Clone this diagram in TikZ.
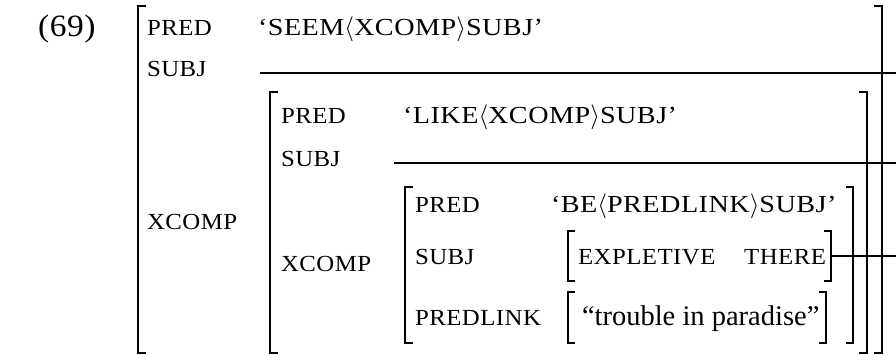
\documentclass[tikz,border=0pt]{standalone}
\usepackage{fontspec}
\setmainfont{Liberation Serif}
\newfontfamily\scf[FakeStretch=1.08,LetterSpace=2]{Liberation Serif}
\newfontfamily\vlf[FakeStretch=1.15,LetterSpace=2]{Liberation Serif}
\newcommand{\SCfont}{\scf\fontsize{23}{27}\selectfont}
\newcommand{\VLfont}{\vlf\fontsize{24.5}{29}\selectfont}
\newcommand{\RMfont}{\rmfamily\fontsize{28.5}{33}\selectfont}
\newcommand{\NUMfont}{\scf\fontsize{31}{36}\selectfont}
\newcommand{\lang}{\ensuremath{\langle}}
\newcommand{\rang}{\ensuremath{\rangle}}
\begin{document}
\begin{tikzpicture}[x=1pt,y=-1pt,
  lab/.style={anchor=base west,inner sep=0pt,outer sep=0pt,font=\SCfont},
  val/.style={anchor=base west,inner sep=0pt,outer sep=0pt,font=\VLfont},
  txt/.style={anchor=base west,inner sep=0pt,outer sep=0pt,font=\RMfont},
  num/.style={anchor=base west,inner sep=0pt,outer sep=0pt,font=\NUMfont},
  brk/.style={line width=1.8pt,line cap=butt,line join=miter},
  sbrk/.style={line width=1.1pt,line cap=butt,line join=miter},
  share/.style={line width=1.2pt}]
\useasboundingbox (0,0) rectangle (896,355);
% example number
\node[num] (ex) at (38,37) {(69)};
% outer f-structure
\node[lab] (p1) at (147,36) {PRED};
\node[val] (v1) at (258,36) {‘SEEM\lang XCOMP\rang SUBJ’};
\node[lab] (s1) at (147,77) {SUBJ};
\node[lab] (x1) at (147,230) {XCOMP};
% level 2
\node[lab] (p2) at (281,124) {PRED};
\node[val] (v2) at (403,124) {‘LIKE\lang XCOMP\rang SUBJ’};
\node[lab] (s2) at (281,167) {SUBJ};
\node[lab] (x2) at (281,272) {XCOMP};
% level 3
\node[lab] (p3) at (415,213) {PRED};
\node[val] (v3) at (551,213) {‘BE\lang PREDLINK\rang SUBJ’};
\node[lab] (s3) at (415,264) {SUBJ};
\node[lab] (e3) at (578,264) {EXPLETIVE};
\node[lab,anchor=base east] (t3) at (826,264) {THERE};
\node[lab] (l3) at (415,325) {PREDLINK};
\node[txt] (tr) at (582,325) {“trouble in paradise”};
% structure-sharing lines
\coordinate (e1) at (896,73);
\coordinate (e2) at (896,163);
\coordinate (e3r) at (896,256);
\coordinate (a1) at (260,73);
\coordinate (a2) at (394,163);
\coordinate (a3) at (831,256);
\draw[share] (a1) -- (e1);
\draw[share] (a2) -- (e2);
\draw[share] (a3) -- (e3r);
% outer brackets
\draw[brk] (146,6) -- (138,6) -- (138,353) -- (146,353);
\draw[brk] (874,6) -- (882,6) -- (882,353) -- (874,353);
% level 2 brackets
\draw[brk] (278,92) -- (270,92) -- (270,353) -- (278,353);
\draw[brk] (859,92) -- (867,92) -- (867,353) -- (859,353);
% level 3 brackets
\draw[brk] (413,187) -- (405,187) -- (405,343) -- (413,343);
\draw[brk] (846,187) -- (853,187) -- (853,343) -- (846,343);
% value brackets
\draw[sbrk] (575,231) -- (568,231) -- (568,281) -- (575,281);
\draw[sbrk] (824,231) -- (831,231) -- (831,281) -- (824,281);
\draw[sbrk] (575,292) -- (568,292) -- (568,343) -- (575,343);
\draw[sbrk] (819,292) -- (826,292) -- (826,343) -- (819,343);
\end{tikzpicture}
\end{document}
